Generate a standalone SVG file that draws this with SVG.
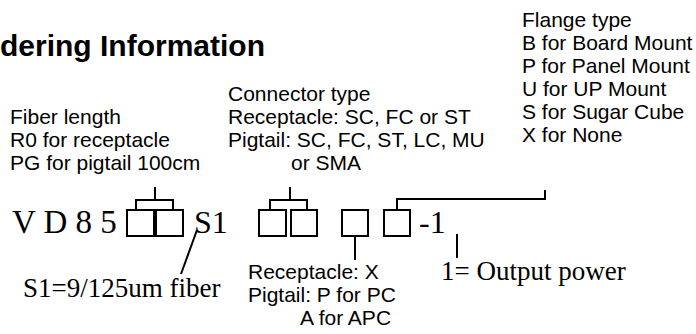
<svg xmlns="http://www.w3.org/2000/svg" width="696" height="334" viewBox="0 0 696 334">
<style>
.sans{font-family:"Liberation Sans",Arial,sans-serif;font-size:21px;fill:#000}
.serif{font-family:"Liberation Serif","Times New Roman",serif;fill:#000}
.title{font-family:"Liberation Sans",Arial,sans-serif;font-size:30px;font-weight:bold;fill:#000}
.box{fill:none;stroke:#000;stroke-width:2}
.ln{fill:none;stroke:#000;stroke-width:2}
</style>
<rect width="696" height="334" fill="#fff"/>
<g id="title"><text class="title" x="0" y="56">dering Information</text></g>
<g id="fiber-length">
<text class="sans" x="10" y="124">Fiber length</text>
<text class="sans" x="10" y="147">R0 for receptacle</text>
<text class="sans" x="10" y="170">PG for pigtail 100cm</text>
</g>
<g id="connector-type">
<text class="sans" x="228" y="101">Connector type</text>
<text class="sans" x="228" y="124">Receptacle: SC, FC or ST</text>
<text class="sans" x="228" y="147">Pigtail: SC, FC, ST, LC, MU</text>
<text class="sans" x="291" y="170">or SMA</text>
</g>
<g id="flange-type">
<text class="sans" x="522" y="27">Flange type</text>
<text class="sans" x="522" y="50">B for Board Mount</text>
<text class="sans" x="522" y="73">P for Panel Mount</text>
<text class="sans" x="522" y="96">U for UP Mount</text>
<text class="sans" x="522" y="119">S for Sugar Cube</text>
<text class="sans" x="522" y="142">X for None</text>
</g>
<g id="code">
<text class="serif" x="12" y="233" font-size="33">V D 8 5</text>
<rect class="box" x="127" y="210" width="27" height="26"/>
<rect class="box" x="156" y="210" width="27" height="26"/>
<text class="serif" x="194" y="233" font-size="32">S1</text>
<rect class="box" x="259" y="210" width="27" height="26"/>
<rect class="box" x="291" y="210" width="26" height="26"/>
<rect class="box" x="342" y="210" width="26" height="26"/>
<rect class="box" x="384" y="210" width="26" height="26"/>
<text class="serif" x="419" y="233" font-size="32">-1</text>
</g>
<g id="fiber-note"><text class="serif" x="23" y="297" font-size="27">S1=9/125um fiber</text></g>
<g id="polish-note">
<text class="sans" x="248" y="279">Receptacle: X</text>
<text class="sans" x="248" y="302">Pigtail: P for PC</text>
<text class="sans" x="300" y="325">A for APC</text>
</g>
<g id="power-note"><text class="serif" x="441" y="280" font-size="27">1= Output power</text></g>
<g id="connectors">
<path class="ln" d="M155 187V200M136 210V200H173V210"/>
<path class="ln" d="M290 187V200M270 210V200H307V210"/>
<path class="ln" d="M355 236V260"/>
<path class="ln" d="M397 210V199H545V190"/>
<path class="ln" d="M457 234V258"/>
<path class="ln" d="M197 230L181 274"/>
</g>
</svg>
